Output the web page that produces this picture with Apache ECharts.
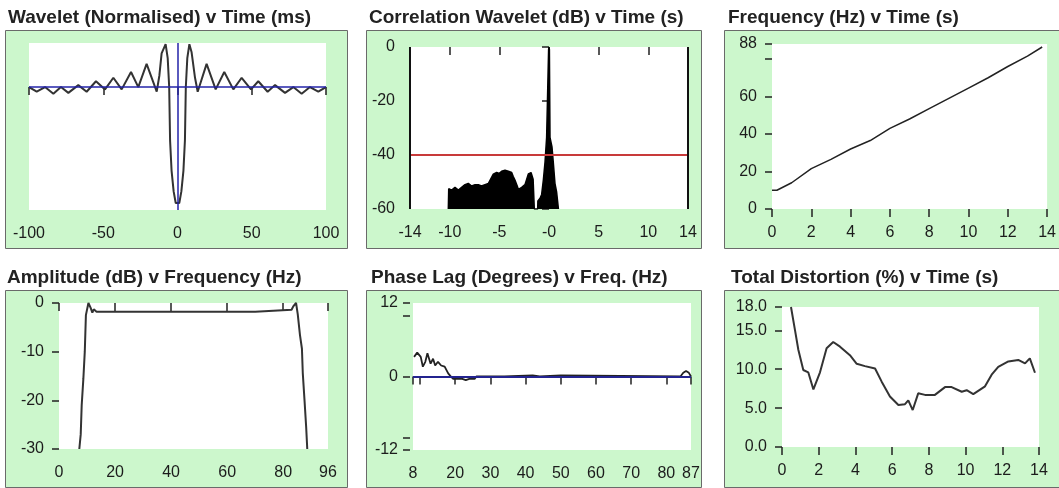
<!DOCTYPE html>
<html>
<head>
<meta charset="utf-8">
<script src="https://cdn.jsdelivr.net/npm/echarts@6/dist/echarts.min.js"></script>
<style>
html,body{margin:0;padding:0;background:#fff;}
#chart{width:1059px;height:488px;}
</style>
</head>
<body>
<div id="chart"></div>
<script>
// ---------- DATA ----------
const titles = [
  'Wavelet (Normalised) v Time (ms)',
  'Correlation Wavelet (dB) v Time (s)',
  'Frequency (Hz) v Time (s)',
  'Amplitude (dB) v Frequency (Hz)',
  'Phase Lag (Degrees) v Freq. (Hz)',
  'Total Distortion (%) v Time (s)'
];

// Panel 1: wavelet
const waveletTime  = [-100, -94.8, -89.2, -83.6, -78.5, -73.5, -66.8, -61.2, -54.9, -48.8, -43.2, -37.6, -31.3, -26.4, -20.8, -14.0, -12.2, -10.7, -8.0, -6.6, -5.6, -5.0, -4.0, -2.6, -1.2, 1.2, 2.6, 4.0, 5.0, 5.6, 6.6, 8.0, 9.5, 11.8, 13.6, 19.6, 25.7, 31.5, 37.6, 43.2, 49.5, 54.4, 60.7, 65.7, 72.4, 78.0, 83.6, 89.2, 94.8, 100];
const waveletValue = [0, -0.04, 0, -0.058, 0, -0.05, 0.017, -0.04, 0.05, -0.02, 0.08, -0.02, 0.13, 0, 0.2, -0.04, 0.1, 0.29, 0.37, 0.25, 0, -0.46, -0.72, -0.9, -1.0, -1.0, -0.9, -0.72, -0.46, 0, 0.25, 0.37, 0.3, 0.08, -0.04, 0.2, -0.02, 0.13, -0.02, 0.08, -0.02, 0.05, -0.04, 0.017, -0.05, 0, -0.058, 0, -0.04, 0];
const waveletXTicks = [-100, -50, 0, 50, 100];

// Panel 2: correlation wavelet
const corrTime = [-10.14, -10.1, -9.8, -9.47, -9.13, -8.8, -8.46, -8.13, -7.79, -7.45, -7.12, -6.8, -6.45, -6.1, -5.94, -5.61, -5.27, -5.0, -4.77, -4.43, -4.1, -3.76, -3.6, -3.43, -3.2, -3.09, -2.75, -2.42, -2.08, -1.81, -1.6, -1.5, -1.48, -1.14, -1.12, -0.9, -0.74, -0.57, -0.4, -0.24, -0.1, -0.04, 0, 0.04, 0.1, 0.2, 0.3, 0.43, 0.6, 0.77, 0.94, 0.95];
const corrDb   = [-60, -52.5, -53, -52, -53, -52, -51, -50.5, -51.5, -51, -51, -51.5, -51, -50.5, -50, -47.1, -46.5, -46.8, -46, -45.6, -46, -46.5, -48, -49.3, -51.5, -52.7, -52, -51, -47, -46.5, -49, -49.5, -60, -60, -57, -56, -54.6, -49.3, -42.6, -33.5, -33.5, -1, 0, -1, -33.5, -33.5, -37, -42.6, -50.5, -53.8, -53.8, -60];
const corrThreshold = -40;
const corrXTicks = [-14, -10, -5, 0, 5, 10, 14];
const corrYTicks = [-60, -40, -20, 0];

// Panel 3: sweep frequency
const sweepTime = [0, 0.25, 1, 2, 3, 4, 5, 6, 7, 8, 9, 10, 11, 12, 13, 13.75];
const sweepFreq = [10, 10, 14, 21.5, 26.5, 32, 36.5, 43, 48, 53.5, 59, 64.5, 70, 76, 81.5, 86.4];
const sweepXTicks = [0, 2, 4, 6, 8, 10, 12, 14];
const sweepYTicks = [0, 20, 40, 60, 80, 88];
const sweepYLabels = [0, 20, 40, 60, 88];

// Panel 4: amplitude
const ampFreq = [7.25, 7.75, 8.1, 8.7, 9.2, 9.6, 10.5, 11.3, 11.9, 12.4, 13.4, 70, 70.3, 83.0, 83.6, 84.6, 85.2, 86.0, 86.7, 87.0, 87.6, 88.2, 88.6];
const ampDb   = [-30, -27, -21, -15.5, -10, -2.5, 0, -1, -2, -1.3, -1.8, -1.8, -1.4, -1.4, -0.7, 0, -2.3, -6.6, -9.4, -14.4, -19.8, -25.4, -30];
const ampXTicks = [0, 20, 40, 60, 80, 96];
const ampYTicks = [-30, -20, -10, 0];

// Panel 5: phase lag
const phaseFreq = [8.3, 9.2, 10.2, 10.8, 11.5, 12.1, 12.6, 13.0, 13.7, 14.3, 15.1, 16, 17, 18, 18.9, 19.5, 22, 23, 24, 25.5, 26, 34, 34.5, 42, 42.5, 44, 44.5, 50, 50.5, 84, 84.8, 85.6, 86.4, 87];
const phaseDeg  = [3.2, 3.9, 3.2, 1.6, 2.4, 3.8, 3.8, 2.1, 2.9, 1.8, 2.4, 1.8, 1.6, 0.5, -0.1, -0.4, -0.4, -0.6, -0.4, -0.4, 0, 0, 0.2, 0.2, 0, 0, 0.2, 0.2, 0, 0, 0.6, 0.9, 0.6, 0];
const phaseXTicks = [8, 10, 20, 30, 40, 50, 60, 70, 80, 87];
const phaseXLabels = [8, 20, 30, 40, 50, 60, 70, 80, 87];
const phaseYTicks = [-12, -10, 0, 10, 12];
const phaseYLabels = [-12, 0, 12];

// Panel 6: total distortion
const distTime = [0.49, 0.71, 0.89, 1.16, 1.43, 1.71, 2.07, 2.43, 2.79, 3.16, 3.7, 4.07, 4.52, 5.07, 5.43, 5.88, 6.34, 6.7, 6.88, 7.12, 7.42, 7.79, 8.33, 8.88, 9.24, 9.79, 10.06, 10.42, 11.06, 11.42, 11.78, 12.33, 12.87, 13.24, 13.5, 13.78];
const distPct  = [18.0, 15.0, 12.5, 9.9, 9.6, 7.4, 9.6, 12.7, 13.5, 12.9, 11.8, 10.7, 10.4, 10.1, 8.4, 6.5, 5.4, 5.5, 6.0, 4.75, 6.9, 6.7, 6.7, 7.7, 7.7, 7.1, 7.3, 6.8, 7.8, 9.3, 10.3, 11.0, 11.2, 10.75, 11.4, 9.55];
const distXTicks = [0, 2, 4, 6, 8, 10, 12, 14];
const distYTicks = [0, 5, 10, 15, 18];

// ---------- LAYOUT ----------
const FONT = '"Liberation Sans", Arial, sans-serif';
const TXT = '#1c1c1c';
const GREEN = '#ccf7cc';
const boxes = [
  [5, 30, 342, 218], [366, 30, 335, 218], [724, 30, 340, 218],
  [5, 290, 342, 197], [366, 290, 335, 197], [724, 290, 340, 197]
];
const grids = [
  {left: 29, top: 43, width: 297, height: 167},
  {left: 410, top: 47, width: 278, height: 162},
  {left: 772, top: 44, width: 277, height: 165},
  {left: 59, top: 303, width: 269, height: 146},
  {left: 413, top: 303, width: 278, height: 147},
  {left: 782, top: 307, width: 257, height: 140}
];
const titlePos = [[8, 8], [369, 8], [728, 8], [7, 268], [371, 268], [731, 268]];

function zip(a, b) { return a.map((v, i) => [v, b[i]]); }

function xAx(gi, min, max, ticks, labels, fmt) {
  return {
    type: 'value', gridIndex: gi, min: min, max: max, offset: 3,
    axisLine: {show: false},
    axisTick: {show: true, inside: false, length: 8, customValues: ticks, lineStyle: {color: '#222', width: 1.5}},
    axisLabel: {customValues: labels, margin: 13, fontSize: 16, color: TXT, fontFamily: FONT, formatter: fmt},
    splitLine: {show: false}
  };
}
function yAx(gi, min, max, ticks, labels, fmt) {
  return {
    type: 'value', gridIndex: gi, min: min, max: max, offset: 3,
    axisLine: {show: false},
    axisTick: {show: true, inside: false, length: 7, customValues: ticks, lineStyle: {color: '#222', width: 1.5}},
    axisLabel: {customValues: labels, margin: 12, fontSize: 16, color: TXT, fontFamily: FONT, formatter: fmt},
    splitLine: {show: false}
  };
}
function mline(gi, data, color, width) {
  return {
    type: 'line', xAxisIndex: gi, yAxisIndex: gi, data: [], silent: true,
    markLine: {silent: true, symbol: 'none', animation: false, label: {show: false},
      lineStyle: {color: color, width: width, type: 'solid'}, data: data}
  };
}
const lineBase = {type: 'line', showSymbol: false, symbol: 'none', animation: false, silent: true};

const option = {
  animation: false,
  backgroundColor: '#fff',
  title: titles.map((t, i) => ({
    text: t, left: titlePos[i][0], top: titlePos[i][1], padding: 0,
    textStyle: {fontSize: 19, fontWeight: 'bold', color: '#222', fontFamily: FONT}
  })),
  graphic: boxes.map(b => ({
    type: 'rect', z: -10, silent: true,
    shape: {x: b[0] + 0.5, y: b[1] + 0.5, width: b[2], height: b[3]},
    style: {fill: GREEN, stroke: '#6a6a6a', lineWidth: 1}
  })),
  grid: grids.map(g => Object.assign({show: true, backgroundColor: '#fff', borderWidth: 0}, g)),
  xAxis: [
    xAx(0, -100, 100, waveletXTicks, waveletXTicks),
    xAx(1, -14, 14, corrXTicks, corrXTicks, v => (v === 0 ? '-0' : String(v))),
    xAx(2, 0, 14, sweepXTicks, sweepXTicks),
    xAx(3, 0, 96, ampXTicks, ampXTicks),
    xAx(4, 8, 87, phaseXTicks, phaseXLabels),
    xAx(5, 0, 14, distXTicks, distXTicks)
  ],
  yAxis: [
    {type: 'value', gridIndex: 0, min: -1.06, max: 0.38, show: false, splitLine: {show: false}},
    yAx(1, -60, 0, corrYTicks, corrYTicks),
    yAx(2, 0, 88, sweepYTicks, sweepYLabels),
    yAx(3, -30, 0, ampYTicks, ampYTicks),
    yAx(4, -12, 12, phaseYTicks, phaseYLabels),
    yAx(5, 0, 18, distYTicks, distYTicks, v => Number(v).toFixed(1))
  ],
  series: [
    Object.assign({}, lineBase, {xAxisIndex: 0, yAxisIndex: 0, data: zip(waveletTime, waveletValue),
      lineStyle: {color: '#333', width: 2}}),
    mline(0, [{yAxis: 0}, {xAxis: 0}], '#2323a8', 1.5),

    Object.assign({}, lineBase, {xAxisIndex: 1, yAxisIndex: 1, data: zip(corrTime, corrDb),
      lineStyle: {color: '#000', width: 1.5},
      areaStyle: {color: '#000', opacity: 1, origin: 'start'}}),
    mline(1, [{yAxis: corrThreshold}], '#c83a3a', 2),
    mline(1, [{xAxis: -14}, {xAxis: 14}], '#111', 2),

    Object.assign({}, lineBase, {xAxisIndex: 2, yAxisIndex: 2, data: zip(sweepTime, sweepFreq),
      lineStyle: {color: '#222', width: 1.5}}),

    Object.assign({}, lineBase, {xAxisIndex: 3, yAxisIndex: 3, data: zip(ampFreq, ampDb),
      lineStyle: {color: '#333', width: 2}}),

    Object.assign({}, lineBase, {xAxisIndex: 4, yAxisIndex: 4, data: zip(phaseFreq, phaseDeg),
      lineStyle: {color: '#222', width: 1.8}}),
    mline(4, [{yAxis: 0}], '#23238f', 2),

    Object.assign({}, lineBase, {xAxisIndex: 5, yAxisIndex: 5, data: zip(distTime, distPct),
      lineStyle: {color: '#333', width: 2}})
  ]
};

const chart = echarts.init(document.getElementById('chart'), null, {renderer: 'canvas'});
chart.setOption(option);
</script>
</body>
</html>
